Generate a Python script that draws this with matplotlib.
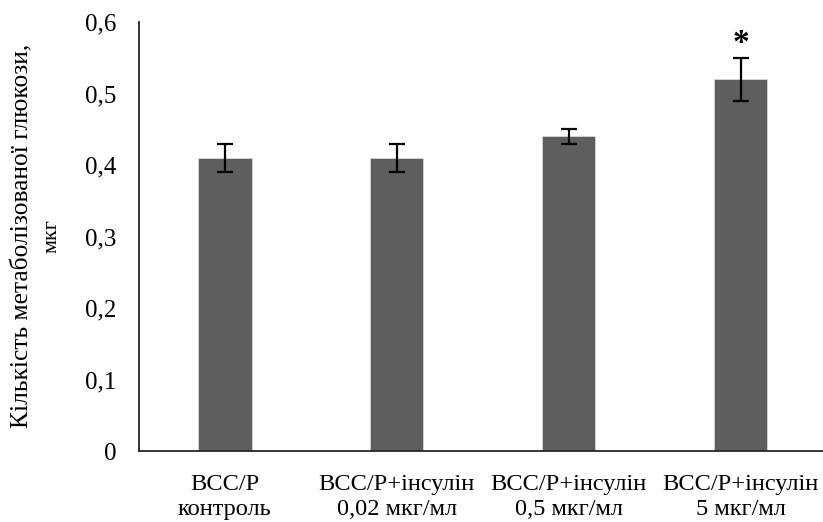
import matplotlib
matplotlib.use("Agg")
import matplotlib.pyplot as plt
import numpy as np

categories = ["BCC/P\nконтроль", "BCC/P+інсулін\n0,02 мкг/мл",
              "BCC/P+інсулін\n0,5 мкг/мл", "BCC/P+інсулін\n5 мкг/мл"]
values = [0.41, 0.41, 0.44, 0.52]
errors = [0.02, 0.02, 0.01, 0.03]
significance = ["", "", "", "*"]
yticks = [0, 0.1, 0.2, 0.3, 0.4, 0.5, 0.6]
ytick_labels = ["0", "0,1", "0,2", "0,3", "0,4", "0,5", "0,6"]

plt.rcParams['font.family'] = ['Liberation Serif', 'DejaVu Serif']

W, H = 823, 522
fig = plt.figure(figsize=(W / 100, H / 100), dpi=100)
ax = fig.add_axes([139 / W, (H - 451) / H, (823 - 139) / W, (451 - 22) / H])

x = np.arange(len(categories))
ax.bar(x, values, width=0.31, color="#5e5e5e", edgecolor="#d9d9d9", linewidth=0.6,
       yerr=errors, error_kw=dict(ecolor="black", elinewidth=1.6, capsize=6, capthick=1.6))

for xi, v, e, s in zip(x, values, errors, significance):
    if s:
        ax.text(xi, v + e + 0.02, s, ha="center", va="center", fontsize=24,
                fontweight="bold")

ax.set_xlim(-0.5, 3.48)
ax.set_ylim(0, 0.6)
ax.set_yticks(yticks)
ax.set_yticklabels(ytick_labels, fontsize=18)
ax.set_xticks(x)
ax.set_xticklabels(categories, fontsize=17.6, linespacing=1.28)
ax.tick_params(axis="both", length=0)
ax.tick_params(axis="y", pad=16.5)
ax.tick_params(axis="x", pad=16.5)
for side in ["top", "right"]:
    ax.spines[side].set_visible(False)
for side in ["left", "bottom"]:
    ax.spines[side].set_color("#262626")
    ax.spines[side].set_linewidth(1.3)

fig.text(22 / W, 1 - 236 / H, "Кількість метаболізованої глюкози,", rotation=90,
         ha="center", va="center", fontsize=18.4)
fig.text(52 / W, 1 - 236 / H, "мкг", rotation=90, ha="center", va="center",
         fontsize=16)

fig.savefig("out.png", dpi=100)
